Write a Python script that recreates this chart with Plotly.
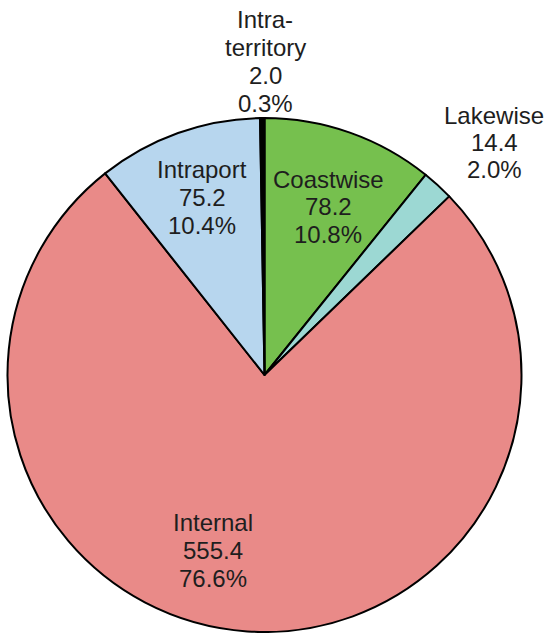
import plotly.graph_objects as go

categories = ["Coastwise", "Lakewise", "Internal", "Intraport", "Intra-territory"]
name_lines = [["Coastwise"], ["Lakewise"], ["Internal"], ["Intraport"], ["Intra-", "territory"]]
values = [78.2, 14.4, 555.4, 75.2, 2.0]
colors = ["#76C04E", "#9CD8D3", "#E98A88", "#B7D6EE", "#000000"]

W, H = 552, 633
cx, cy, R = 264.5, 375, 257

# label layout: centre x and y of first line, line spacing (pixels)
label_pos = {
    "Coastwise": (328, 179, 27.5),
    "Lakewise": (494, 115, 27),
    "Internal": (213, 522, 28),
    "Intraport": (202, 170, 27.5),
    "Intra-territory": (265, 20, 27.7),
}

total = sum(values)

fig = go.Figure(go.Pie(
    labels=categories,
    values=values,
    sort=False,
    direction="clockwise",
    rotation=0,
    marker=dict(colors=colors, line=dict(color="#000000", width=2)),
    textinfo="none",
    hoverinfo="label+value+percent",
    showlegend=False,
    domain=dict(x=[(cx - R) / W, (cx + R) / W], y=[1 - (cy + R) / H, 1 - (cy - R) / H]),
))

annotations = []
for cat, names, v in zip(categories, name_lines, values):
    px, py, dy = label_pos[cat]
    pct = v / total * 100
    lines = names + [f"{v:.1f}", f"{pct:.1f}%"]
    for i, line in enumerate(lines):
        annotations.append(dict(
            x=px / W, y=1 - (py + i * dy) / H, xref="paper", yref="paper",
            xanchor="center", yanchor="middle",
            text=line,
            showarrow=False,
            font=dict(family="Liberation Sans, Arial, sans-serif", size=24, color="#1E1E1E"),
        ))

fig.update_layout(
    width=W, height=H,
    margin=dict(l=0, r=0, t=0, b=0),
    paper_bgcolor="white",
    plot_bgcolor="white",
    annotations=annotations,
)

fig.write_html("out.html", config={"displayModeBar": False},
               post_script="document.body.style.margin='0px';")
